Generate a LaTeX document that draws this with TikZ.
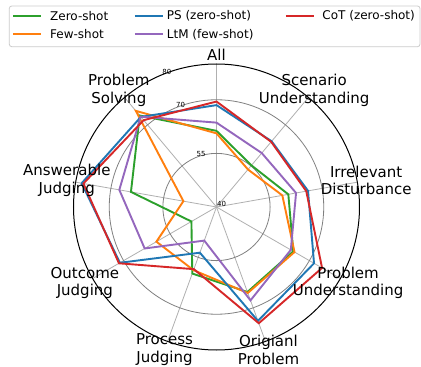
\documentclass[tikz,border=0pt]{standalone}
\usepackage{fontspec}
\setmainfont{DejaVu Sans}
\definecolor{zero}{HTML}{2CA02C}
\definecolor{few}{HTML}{FF7F0E}
\definecolor{ps}{HTML}{1F77B4}
\definecolor{ltm}{HTML}{9467BD}
\definecolor{cot}{HTML}{D62728}
\definecolor{gridgray}{HTML}{B0B0B0}
\tikzset{
  spoke/.style={gridgray,line width=0.8pt},
  ring/.style={gray,line width=0.8pt},
  frame/.style={black,line width=1pt},
  series/.style={line width=1.9pt,line join=miter},
  axlabel/.style={align=center,inner sep=0pt,font=\fontsize{15}{17.6}\selectfont},
  ticklabel/.style={anchor=south west,inner sep=0.4pt,font=\fontsize{7}{8}\selectfont},
  legbox/.style={draw=black!20,fill=white,rounded corners=2.5pt,line width=0.8pt},
  legtext/.style={anchor=west,inner sep=0pt,font=\fontsize{12}{14}\selectfont}
}
\begin{document}
\begin{tikzpicture}[x=1pt,y=1pt]
\pgfmathsetmacro{\s}{3.575}
\useasboundingbox[fill=white] (-216.5,-160) rectangle (204.5,207);
\coordinate (o) at (0,0);
%
\foreach \k in {1,...,9}{
  \coordinate (rim\k) at ({130-40*\k}:143);
  \draw[spoke] (o) -- (rim\k);
}
\draw[ring] (o) circle ({15*\s});
\draw[ring] (o) circle ({30*\s});
\draw[frame] (o) circle (143);
\foreach \t in {40,55,70,80}
  \node[ticklabel] (tick\t) at (112.5:{(\t-40)*\s}) {\t};
%
\foreach \sname/\vals in {
  zero/{61.3,55.2,60.4,64.8,65.3,59.8,48.1,64.3,73.4},
  few/{60.6,53.7,58.7,65.2,65.6,58.8,59.4,49.4,75.1},
  ps/{68.5,64,66,71.5,73.9,53.6,71.2,78.3,72.9},
  ltm/{63.6,59.7,62.6,64,67.8,50.0,63.2,67.6,73},
  cot/{69.5,63.8,65.5,74.1,74.6,58.5,71.5,77.8,71.7}}{
  \foreach \v [count=\k] in \vals
    \coordinate (\sname-\k) at ({130-40*\k}:{(\v-40)*\s});
  \draw[series,\sname] (\sname-1) \foreach \k in {2,...,9}{-- (\sname-\k)} -- cycle;
}
%
\foreach \lab [count=\k] in {All,{Scenario\\Understanding},{Irrelevant\\Disturbance},
  {Problem\\Understanding},{Origianl\\Problem},{Process\\Judging},{Outcome\\Judging},
  {Answerable\\Judging},{Problem\\Solving}}
  \node[axlabel] (lab\k) at ({130-40*\k}:152) {\lab};
%
% legend
\draw[legbox] (-207.2,160.3) rectangle (203.5,201);
\coordinate (lzero) at (-203.2,191.3);
\coordinate (lfew) at (-203.2,172.7);
\coordinate (lps) at (-81.5,191.3);
\coordinate (lltm) at (-81.5,172.7);
\coordinate (lcot) at (69.5,191.3);
\draw[series,zero] (lzero) -- ++(27.7,0);
\draw[series,few] (lfew) -- ++(27.7,0);
\draw[series,ps] (lps) -- ++(27.7,0);
\draw[series,ltm] (lltm) -- ++(27.7,0);
\draw[series,cot] (lcot) -- ++(27.7,0);
\node[legtext] (tzero) at ([xshift=36.7pt]lzero) {Zero-shot};
\node[legtext] (tfew) at ([xshift=36.7pt]lfew) {Few-shot};
\node[legtext] (tps) at ([xshift=31.7pt]lps) {PS (zero-shot)};
\node[legtext] (tltm) at ([xshift=31.7pt]lltm) {LtM (few-shot)};
\node[legtext] (tcot) at ([xshift=36.3pt]lcot) {CoT (zero-shot)};
\end{tikzpicture}
\end{document}
